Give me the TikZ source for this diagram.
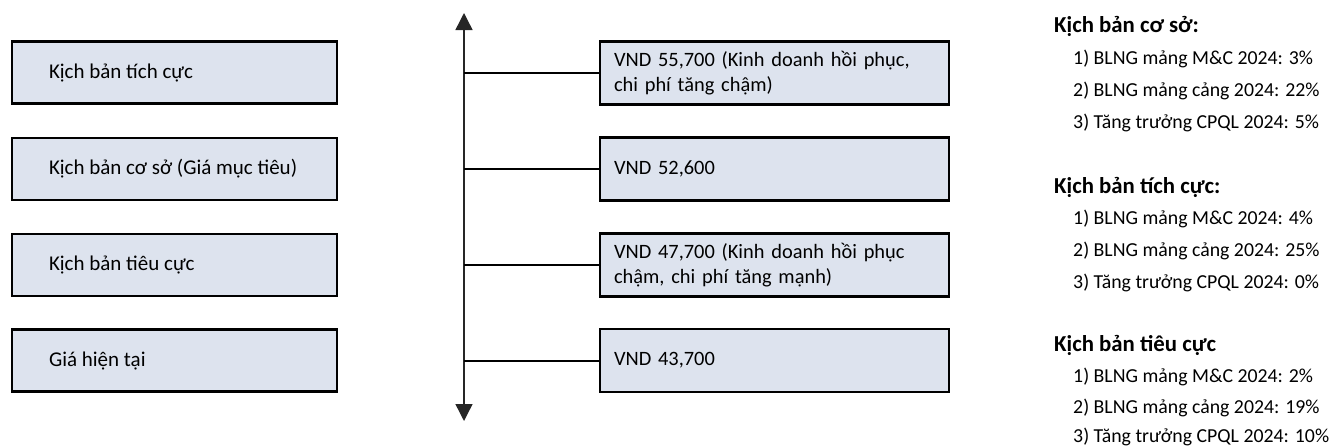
\documentclass[tikz,border=0pt]{standalone}
\usepackage{fontspec}
\setmainfont{Carlito}
\usetikzlibrary{arrows.meta}
\definecolor{boxfill}{HTML}{DDE3EE}
\begin{document}
\begin{tikzpicture}[x=1pt,y=-1pt,
  lbox/.style={draw=black, line width=2.6pt, fill=boxfill, minimum width=325pt, minimum height=62pt,
    inner xsep=37pt, inner ysep=0pt, align=left, font=\fontsize{21}{25}\selectfont},
  rbox/.style={draw=black, line width=2.6pt, fill=boxfill, minimum width=349pt, minimum height=63pt,
    inner xsep=14pt, inner ysep=0pt, text width=321pt, align=left, font=\fontsize{20.4}{25}\selectfont},
  head/.style={anchor=base west, inner sep=0pt, font=\fontsize{22.8}{26}\selectfont\bfseries},
  item/.style={anchor=base west, inner sep=0pt, font=\fontsize{19.8}{24}\selectfont},
  conn/.style={line width=2pt},
  axisline/.style={line width=1.4pt, draw=black!85, {Triangle[width=17pt,length=17pt]}-{Triangle[width=17pt,length=17pt]}}]
\useasboundingbox (0,0) rectangle (1333,447);

% left boxes
\node[lbox] (l1) at (174.5,72.5) {\makebox[251pt][l]{Kịch bản tích cực}};
\node[lbox] (l2) at (174.5,169) {\makebox[251pt][l]{Kịch bản cơ sở (Giá mục tiêu)}};
\node[lbox] (l3) at (174.5,265) {\makebox[251pt][l]{Kịch bản tiêu cực}};
\node[lbox] (l4) at (174.5,360.5) {\makebox[251pt][l]{Giá hiện tại}};

% axis
\coordinate (atop) at (464,13);
\coordinate (abot) at (464,421);
\draw[axisline] (atop) -- (abot);

% right boxes
\node[rbox] (r1) at (774.5,73) {\makebox[321pt][s]{VND 55,700 (Kinh doanh hồi phục,}\\chi phí tăng chậm)};
\node[rbox] (r2) at (774.5,169) {VND 52,600};
\node[rbox] (r3) at (774.5,265) {\makebox[321pt][s]{VND 47,700 (Kinh doanh hồi phục}\\chậm, chi phí tăng mạnh)};
\node[rbox] (r4) at (774.5,360.5) {VND 43,700};

\coordinate (c1) at (464,73);
\coordinate (c2) at (464,169);
\coordinate (c3) at (464,265);
\coordinate (c4) at (464,360.5);
\draw[conn] (c1) -- (r1.west);
\draw[conn] (c2) -- (r2.west);
\draw[conn] (c3) -- (r3.west);
\draw[conn] (c4) -- (r4.west);

% right panel
\node[head] (h1) at (1054,32) {Kịch bản cơ sở:};
\node[item] (h1a) at (1073,64) {1) BLNG mảng M\&C 2024: 3\%};
\node[item] (h1b) at (1073,96) {2) BLNG mảng cảng 2024: 22\%};
\node[item] (h1c) at (1073,128) {3) Tăng trưởng CPQL 2024: 5\%};

\node[head] (h2) at (1054,193) {Kịch bản tích cực:};
\node[item] (h2a) at (1073,224) {1) BLNG mảng M\&C 2024: 4\%};
\node[item] (h2b) at (1073,256) {2) BLNG mảng cảng 2024: 25\%};
\node[item] (h2c) at (1073,288) {3) Tăng trưởng CPQL 2024: 0\%};

\node[head] (h3) at (1054,351) {Kịch bản tiêu cực};
\node[item] (h3a) at (1073,382) {1) BLNG mảng M\&C 2024: 2\%};
\node[item] (h3b) at (1073,413) {2) BLNG mảng cảng 2024: 19\%};
\node[item] (h3c) at (1073,442) {3) Tăng trưởng CPQL 2024: 10\%};
\end{tikzpicture}
\end{document}
